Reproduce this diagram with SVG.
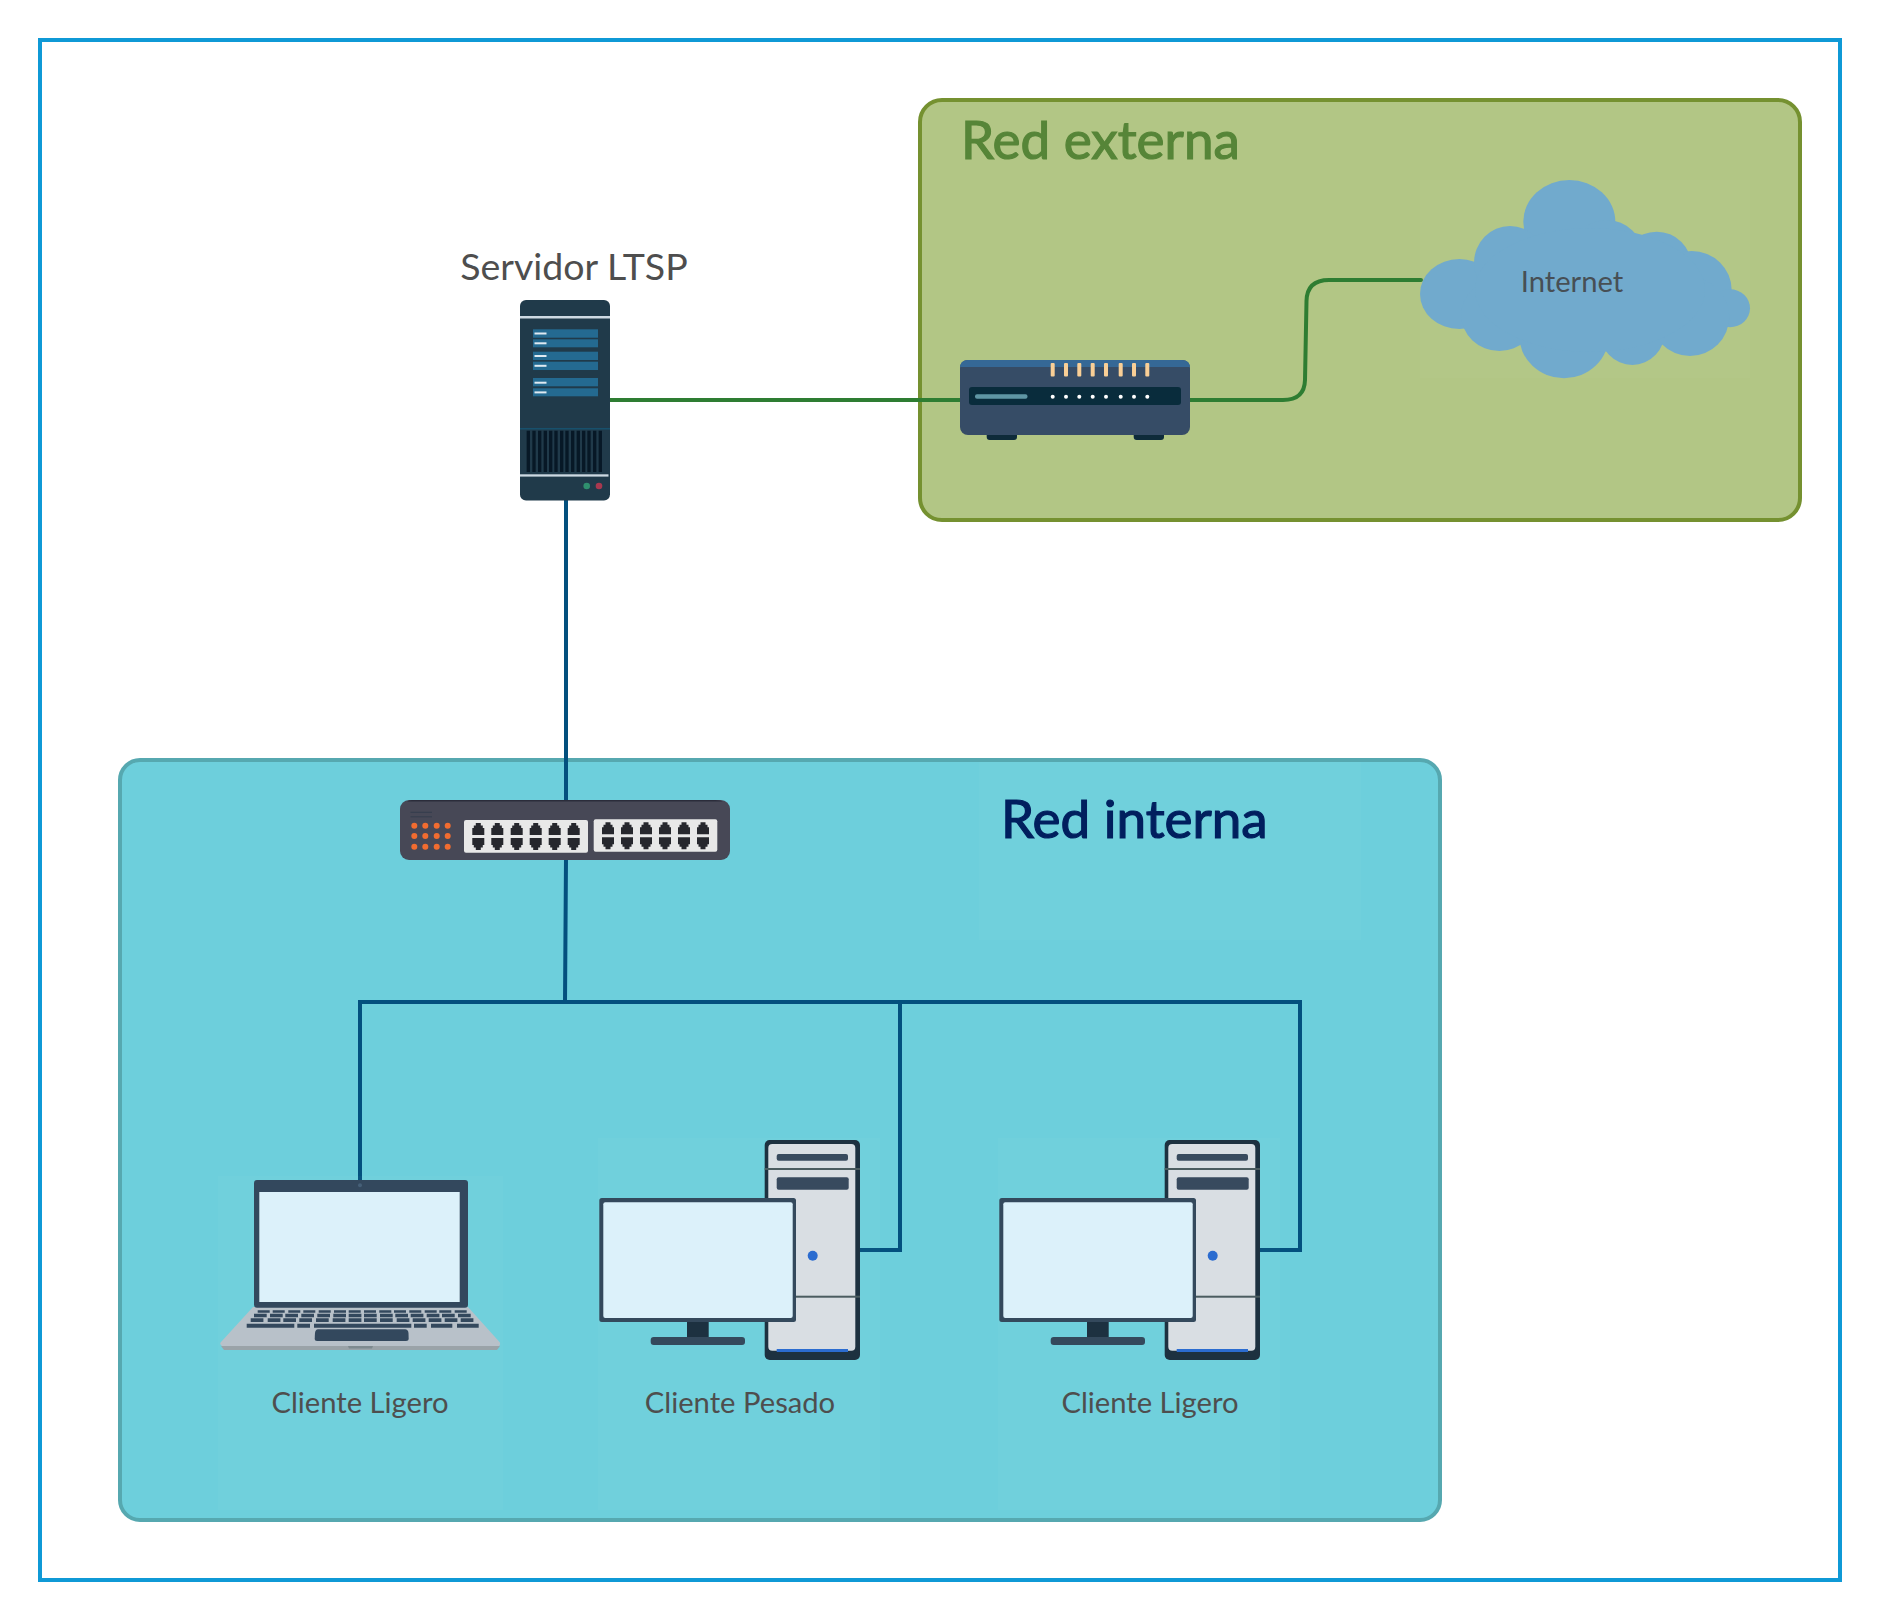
<svg xmlns="http://www.w3.org/2000/svg" xmlns:xlink="http://www.w3.org/1999/xlink" width="1880" height="1620" viewBox="0 0 1880 1620">
<style>
text{font-family:Lato,"Liberation Sans",sans-serif}
.lbl{fill:#4e4e4e;font-size:29.200px;text-anchor:middle}
.title{font-size:53px;stroke-width:1.200px}
.green{fill:none;stroke:#2e7d32;stroke-width:4;stroke-linecap:round}
.blue{fill:none;stroke:#03507e;stroke-width:4;stroke-linecap:round;stroke-linejoin:miter}
.faint{fill:#fff;fill-opacity:.025}
.slot{fill:#246a91}
.dash{fill:#dfeaf2}
.cl{fill:#71aacd}
</style>
<defs>
<g id="ports">
<path d="M-2.500 0H2.500V2.500H4.500V5H6V12H-6V5H-4.500V2.500H-2.500Z"/>
<path transform="translate(0,15)" d="M-6 0H6V7H4.500V9.500H2.500V12H-2.500V9.500H-4.500V7H-6Z"/>
</g>
<g id="pc">
<rect x="598" y="1138" width="282" height="372" class="faint"/>
<rect x="764.700" y="1140" width="95.300" height="220" rx="5" fill="#1d3140"/>
<rect x="768.300" y="1144" width="87" height="206.700" rx="4" fill="#d9dee3"/>
<rect x="776.700" y="1154" width="71.300" height="6.700" rx="2" fill="#384a5e"/>
<rect x="764.700" y="1168" width="95.300" height="2" fill="#4b5c60"/>
<rect x="776.700" y="1177.300" width="72" height="12.400" rx="2" fill="#384a5e"/>
<circle cx="812.700" cy="1255.700" r="5" fill="#2b6cd0"/>
<rect x="764.700" y="1295.700" width="95.300" height="2" fill="#4b5c60"/>
<rect x="776.700" y="1349" width="71.300" height="3" fill="#2b6cd0"/>
<rect x="687" y="1320" width="21.700" height="18" fill="#1d3140"/>
<rect x="650.700" y="1337" width="94.300" height="8" rx="3" fill="#34495c"/>
<rect x="599.300" y="1198" width="196.700" height="124" rx="2.500" fill="#34495c"/>
<rect x="603.300" y="1202.300" width="189.400" height="115.700" rx="2" fill="#dcf1fa"/>
</g>
</defs>
<rect width="1880" height="1620" fill="#fff"/>
<rect id="frame" x="40" y="40" width="1800" height="1540" fill="none" stroke="#0f99d6" stroke-width="4"/>
<g id="red-externa">
<rect x="920" y="100" width="880" height="420" rx="22" fill="#b2c685" stroke="#759130" stroke-width="4"/>
<text x="961" y="159" class="title" fill="#568538" stroke="#568538">Red externa</text>
</g>
<g id="red-interna">
<rect x="120" y="760" width="1320" height="760" rx="20" fill="#6dcfdc" stroke="#56a8b0" stroke-width="4"/>
<rect x="979" y="762" width="382" height="178" class="faint"/>
<text x="1001" y="838" class="title" fill="#011f5e" stroke="#011f5e">Red interna</text>
</g>
<g id="connectors">
<path class="green" d="M610 400H960"/>
<path class="green" d="M1190 400H1283Q1304.500 400 1305 380L1306.500 301Q1307 280 1329 280H1421"/>
<path class="blue" d="M566 498V800"/>
<path class="blue" d="M566 858L565 1002"/>
<path class="blue" d="M360 1182V1002H1300V1250H1260"/>
<path class="blue" d="M900 1002V1250H860"/>
</g>
<g id="internet">
<rect x="1420" y="180" width="330" height="198" class="faint"/>
<ellipse class="cl" cx="1459.300" cy="294" rx="39.300" ry="35"/>
<ellipse class="cl" cx="1569.300" cy="221.700" rx="46" ry="41.700"/>
<ellipse class="cl" cx="1510" cy="263" rx="36" ry="37"/>
<circle class="cl" cx="1606.700" cy="256.700" r="36.700"/>
<circle class="cl" cx="1656.700" cy="266.700" r="35"/>
<ellipse class="cl" cx="1691.700" cy="290" rx="40" ry="39"/>
<ellipse class="cl" cx="1730" cy="308.300" rx="20" ry="19"/>
<circle class="cl" cx="1690" cy="316.700" r="39.300"/>
<ellipse class="cl" cx="1632.300" cy="330" rx="33" ry="35"/>
<ellipse class="cl" cx="1564" cy="335" rx="45" ry="43.300"/>
<ellipse class="cl" cx="1499.300" cy="315" rx="38" ry="36"/>
<ellipse class="cl" cx="1590" cy="290" rx="115" ry="62"/>
<text x="1572" y="292" class="lbl" style="fill:#474f55">Internet</text>
</g>
<g id="router">
<rect x="986.700" y="430" width="30.300" height="10" rx="3" fill="#0e2b3a"/>
<rect x="1133.700" y="430" width="30.300" height="10" rx="3" fill="#0e2b3a"/>
<rect x="960" y="360" width="230" height="75" rx="8" fill="#364c66"/>
<path d="M960 367V368Q960 360 968 360H1182Q1190 360 1190 368V367Z" fill="#356896"/>
<rect x="969" y="387" width="212" height="18" rx="3" fill="#092c3c"/>
<rect x="975" y="394.300" width="52.500" height="4.500" rx="2" fill="#5f96a4"/>
<g fill="#fff">
<circle cx="1052.700" cy="396.700" r="2"/><circle cx="1066" cy="396.700" r="2"/><circle cx="1079.300" cy="396.700" r="2"/><circle cx="1092.700" cy="396.700" r="2"/><circle cx="1106" cy="396.700" r="2"/><circle cx="1120.700" cy="396.700" r="2"/><circle cx="1134" cy="396.700" r="2"/><circle cx="1147.300" cy="396.700" r="2"/>
</g>
<g fill="#f9cf96">
<rect x="1050.700" y="363" width="4" height="13.500" rx="1"/><rect x="1064" y="363" width="4" height="13.500" rx="1"/><rect x="1077.300" y="363" width="4" height="13.500" rx="1"/><rect x="1090.700" y="363" width="4" height="13.500" rx="1"/><rect x="1104" y="363" width="4" height="13.500" rx="1"/><rect x="1118.700" y="363" width="4" height="13.500" rx="1"/><rect x="1132" y="363" width="4" height="13.500" rx="1"/><rect x="1145.300" y="363" width="4" height="13.500" rx="1"/>
</g>
</g>
<g id="servidor">
<text x="574" y="279.500" class="lbl" style="font-size:37.500px">Servidor LTSP</text>
<rect x="520" y="300" width="90" height="200.500" rx="6" fill="#203a4a"/>
<rect x="520" y="316" width="90" height="2.500" fill="#cdd9e2"/>
<rect class="slot" x="533" y="329.300" width="65" height="8.400"/>
<rect class="slot" x="533" y="339.300" width="65" height="8"/>
<rect class="slot" x="533" y="351.700" width="65" height="8.300"/>
<rect class="slot" x="533" y="361.700" width="65" height="8.300"/>
<rect class="slot" x="533" y="378" width="65" height="8.300"/>
<rect class="slot" x="533" y="388.300" width="65" height="8"/>
<rect class="dash" x="534.500" y="332.500" width="12" height="2"/>
<rect class="dash" x="534.500" y="342.300" width="12" height="2"/>
<rect class="dash" x="534.500" y="355" width="12" height="2"/>
<rect class="dash" x="534.500" y="364.800" width="12" height="2"/>
<rect class="dash" x="534.500" y="381.700" width="12" height="2"/>
<rect class="dash" x="534.500" y="391.400" width="12" height="2"/>
<rect x="520" y="428" width="90" height="1.500" fill="#17506c"/>
<path stroke="#071826" stroke-width="3.300" fill="none" d="M528.300 430.700V472M534 430.700V472M539.700 430.700V472M545.300 430.700V472M550.700 430.700V472M556 430.700V472M561.700 430.700V472M567 430.700V472M572.700 430.700V472M578.300 430.700V472M583.700 430.700V472M589 430.700V472M594.700 430.700V472M600.300 430.700V472"/>
<rect x="520" y="474.300" width="88.500" height="2.300" fill="#cdd9e2"/>
<circle cx="586.700" cy="486" r="3.300" fill="#2f8f6e"/>
<circle cx="599" cy="486" r="3.300" fill="#a8384f"/>
</g>
<g id="switch">
<rect x="400" y="800" width="330" height="60" rx="9" fill="#474856"/>
<path d="M412 800H715Q720 800 723 801.500H407Q409 800 412 800Z" fill="#2b2c3a"/>
<path d="M410.500 812.300H432M410.500 816.800H432" stroke="#2f3a4a" stroke-width=".8"/>
<g fill="#f26c30">
<circle cx="414.300" cy="825.700" r="3"/><circle cx="425.300" cy="825.700" r="3"/><circle cx="436.700" cy="825.700" r="3"/><circle cx="447.700" cy="825.700" r="3"/>
<circle cx="414.300" cy="836" r="3"/><circle cx="425.300" cy="836" r="3"/><circle cx="436.700" cy="836" r="3"/><circle cx="447.700" cy="836" r="3"/>
<circle cx="414.300" cy="846.700" r="3"/><circle cx="425.300" cy="846.700" r="3"/><circle cx="436.700" cy="846.700" r="3"/><circle cx="447.700" cy="846.700" r="3"/>
</g>
<rect x="464" y="820" width="124" height="32.700" rx="2" fill="#e8e8e8"/>
<rect x="593.700" y="819.300" width="123.600" height="32.400" rx="2" fill="#e8e8e8"/>
<g fill="#26272d">
<use href="#ports" x="478.300" y="823"/><use href="#ports" x="497.300" y="823"/><use href="#ports" x="516.700" y="823"/><use href="#ports" x="535.700" y="823"/><use href="#ports" x="554.700" y="823"/><use href="#ports" x="573.700" y="823"/>
<use href="#ports" x="608" y="822.300"/><use href="#ports" x="627" y="822.300"/><use href="#ports" x="646" y="822.300"/><use href="#ports" x="665" y="822.300"/><use href="#ports" x="684" y="822.300"/><use href="#ports" x="703" y="822.300"/>
</g>
</g>
<g id="cliente-ligero-1">
<rect x="218" y="1176" width="285" height="334" class="faint"/>
<path d="M221 1346L224 1350H497L500 1346Z" fill="#9aa3a8"/>
<path d="M348 1346L349 1348.500H372L373 1346Z" fill="#7d8a8f"/>
<path d="M253 1307H468L499.500 1342Q501 1344 499 1346H222Q219 1344 221 1342Z" fill="#b8c1c9"/>
<rect x="254" y="1180" width="214" height="127.700" rx="3" fill="#33485d"/>
<rect x="259.300" y="1192" width="200.400" height="110" fill="#dcf1fa"/>
<circle cx="360" cy="1185.300" r="2" fill="#466078"/>
<g fill="none" stroke="#33485d">
<path stroke-width="2.400" d="M257.700 1311.500h12M272.700 1311.500h12M288.300 1311.500h12M303.300 1311.500h12M318.700 1311.500h12M334 1311.500h12M348.700 1311.500h12M364 1311.500h12M379.300 1311.500h12M394 1311.500h12M409.300 1311.500h12M424.700 1311.500h12M439.300 1311.500h12M454.700 1311.500h12"/>
<path stroke-width="3.600" d="M254 1315.500h12.700M270 1315.500h12.700M285.300 1315.500h12.700M301.300 1315.500h12.700M317.300 1315.500h12.700M333.300 1315.500h12.700M348.700 1315.500h12.700M364 1315.500h12.700M380 1315.500h12.700M395.300 1315.500h12.700M410.700 1315.500h12.700M426.700 1315.500h12.700M442 1315.500h12.700M458 1315.500h12.700"/>
<path stroke-width="3.700" d="M250.700 1320.200h12.700M267.700 1320.200h12.700M283.300 1320.200h12.700M299.300 1320.200h12.700M316 1320.200h12.700M332.700 1320.200h12.700M348.700 1320.200h12.700M364 1320.200h12.700M380 1320.200h12.700M396.700 1320.200h12.700M412.700 1320.200h12.700M428.700 1320.200h12.700M444.700 1320.200h12.700M460.700 1320.200h12.700"/>
<path stroke-width="4" d="M246.700 1325.700H294.300M297.300 1325.700H310M314 1325.700H411.300M414 1325.700H426.700M431 1325.700H452.300M457 1325.700H478.700"/>
</g>
<path d="M318 1329.300H405Q408 1329.300 408.500 1333L408.700 1339Q408.700 1341 406 1341H317Q314.700 1341 314.700 1339L315 1333Q315.500 1329.300 318 1329.300Z" fill="#33485d"/>
<text x="360" y="1413" class="lbl">Cliente Ligero</text>
</g>
<g id="cliente-pesado">
<use href="#pc"/>
<text x="740" y="1413" class="lbl">Cliente Pesado</text>
</g>
<g id="cliente-ligero-2">
<use href="#pc" x="400"/>
<text x="1150" y="1413" class="lbl">Cliente Ligero</text>
</g>
</svg>
